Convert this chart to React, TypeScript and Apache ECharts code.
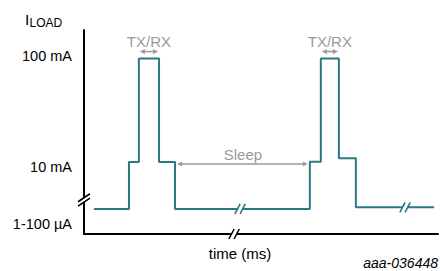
import React, { useEffect, useRef } from "react";
import * as echarts from "echarts";

// time (arbitrary units, 0..100) of each level change, and the current level that starts there
const timeStamps = [2.8, 12.7, 15.5, 21.2, 25.7, 63.8, 66.9, 72.0, 76.8, 98.9];
const currentLevels = [12.3, 35.3, 86.0, 35.3, 12.3, 35.4, 86.0, 37.1, 13.1, 13.1];

// y-axis tick labels (arbitrary current scale 0..100)
const tickValues = [4.9, 32.8, 87.3];
const tickLabels = ["1-100 µA", "10 mA", "100 mA"];

// annotation labels
const pulseLabel = "TX/RX";
const sleepLabel = "Sleep";
const xAxisLabel = "time (ms)";
const yAxisMain = "I";
const yAxisSub = "LOAD";
const figureId = "aaa-036448";

// axis-break positions (data units)
const waveBreakTimes = [44.1, 90.7];
const xAxisBreakTime = 42.4;
const yAxisBreakLevel = 16.7;

const TEAL = "#2b7783";
const GRAY = "#9a9a9a";
const FONT = "'Liberation Sans', Arial, sans-serif";

export default function App() {
  const ref = useRef<HTMLDivElement>(null);
  useEffect(() => {
    const chart = echarts.init(ref.current!, null, { renderer: "svg" });
    chart.setOption({
      animation: false,
      backgroundColor: "#fff",
      grid: { left: 84, right: 2, top: 30, bottom: 37 },
      xAxis: {
        type: "value",
        min: 0,
        max: 100,
        axisLine: { show: true, lineStyle: { color: "#000", width: 2 } },
        axisTick: { show: false },
        axisLabel: { show: false },
        splitLine: { show: false },
      },
      yAxis: {
        type: "value",
        min: 0,
        max: 100,
        axisLine: { show: true, lineStyle: { color: "#000", width: 2 } },
        axisTick: { show: false },
        splitLine: { show: false },
        axisLabel: {
          customValues: tickValues,
          formatter: (v: number) => {
            const i = tickValues.findIndex((t) => Math.abs(t - v) < 1e-6);
            return i >= 0 ? tickLabels[i] : "";
          },
          margin: 12,
          fontSize: 14.5,
          color: "#000",
          fontFamily: FONT,
        },
      },
      series: [
        {
          type: "line",
          step: "end",
          symbol: "none",
          data: timeStamps.map((t, i) => [t, currentLevels[i]]),
          lineStyle: { color: TEAL, width: 2 },
        },
      ],
    });

    const px = (x: number, y: number) =>
      chart.convertToPixel({ gridIndex: 0 }, [x, y]) as number[];

    const g: any[] = [];
    const head = (x: number, y: number, dir: number, color: string) => ({
      type: "polygon",
      z: 100,
      shape: {
        points: [
          [x, y],
          [x - dir * 5, y - 2.6],
          [x - dir * 5, y + 2.6],
        ],
      },
      style: { fill: color },
    });
    const dblArrow = (x1: number, x2: number, y: number) => {
      g.push({
        type: "line",
        z: 100,
        shape: { x1: x1 + 3, y1: y, x2: x2 - 3, y2: y },
        style: { stroke: GRAY, lineWidth: 1.5 },
      });
      g.push(head(x1, y, -1, GRAY));
      g.push(head(x2, y, 1, GRAY));
    };
    const text = (x: number, y: number, t: string, opts: any = {}) =>
      g.push({
        type: "text",
        z: 100,
        x,
        y,
        style: {
          text: t,
          fontFamily: FONT,
          fontSize: 15,
          fill: "#000",
          align: "center",
          verticalAlign: "middle",
          ...opts,
        },
      });

    // TX/RX annotations over each pulse top
    [2, 6].forEach((i) => {
      const [xa, yTop] = px(timeStamps[i], currentLevels[i]);
      const [xb] = px(timeStamps[i + 1], currentLevels[i]);
      dblArrow(xa + 1, xb - 1, yTop - 7);
      text((xa + xb) / 2, yTop - 17.5, pulseLabel, { fill: GRAY });
    });

    // Sleep annotation
    {
      const [xa, yMid] = px(timeStamps[4], currentLevels[3]);
      const [xb] = px(timeStamps[5], currentLevels[3]);
      dblArrow(xa + 2, xb - 2, yMid + 2);
      text((xa + xb) / 2 + 0.5, yMid - 7, sleepLabel, { fill: GRAY });
    }

    // breaks on horizontal lines
    const hBreak = (cx: number, cy: number, color: string) => {
      g.push({
        type: "rect",
        z: 99,
        shape: { x: cx - 2, y: cy - 3, width: 4, height: 6 },
        style: { fill: "#fff" },
      });
      [-2.6, 2.6].forEach((d) =>
        g.push({
          type: "line",
          z: 100,
          shape: { x1: cx + d - 2.6, y1: cy + 5, x2: cx + d + 2.6, y2: cy - 5 },
          style: { stroke: color, lineWidth: 1.6 },
        })
      );
    };
    waveBreakTimes.forEach((t) => {
      const idx = timeStamps.findIndex((s) => s > t) - 1;
      const [cx, cy] = px(t, currentLevels[idx]);
      hBreak(cx, cy, TEAL);
    });
    {
      const [cx, cy] = px(xAxisBreakTime, 0);
      hBreak(cx, cy, "#000");
    }
    // break on y axis
    {
      const [cx, cy] = px(0, yAxisBreakLevel);
      g.push({
        type: "rect",
        z: 99,
        shape: { x: cx - 3, y: cy - 2, width: 6, height: 4 },
        style: { fill: "#fff" },
      });
      [-2.2, 2.2].forEach((d) =>
        g.push({
          type: "line",
          z: 100,
          shape: { x1: cx - 6, y1: cy + d + 4, x2: cx + 6, y2: cy + d - 4 },
          style: { stroke: "#000", lineWidth: 1.6 },
        })
      );
    }

    // I_LOAD axis title (main letter + subscript)
    text(25, 19.5, yAxisMain, { align: "left", fontSize: 15.5 });
    text(29.5, 23, yAxisSub, { align: "left", fontSize: 12 });

    // x axis title
    {
      const [cx, cy] = px(xAxisBreakTime + 1.7, 0);
      text(cx, cy + 19, xAxisLabel);
    }
    // figure id
    text(438, 263, figureId, { align: "right", fontStyle: "italic", fontSize: 14 });

    chart.setOption({ graphic: g });
    return () => chart.dispose();
  }, []);
  return (
    <div
      ref={ref}
      style={{ position: "absolute", left: 0, top: 0, width: 440, height: 271, background: "#fff" }}
    />
  );
}
